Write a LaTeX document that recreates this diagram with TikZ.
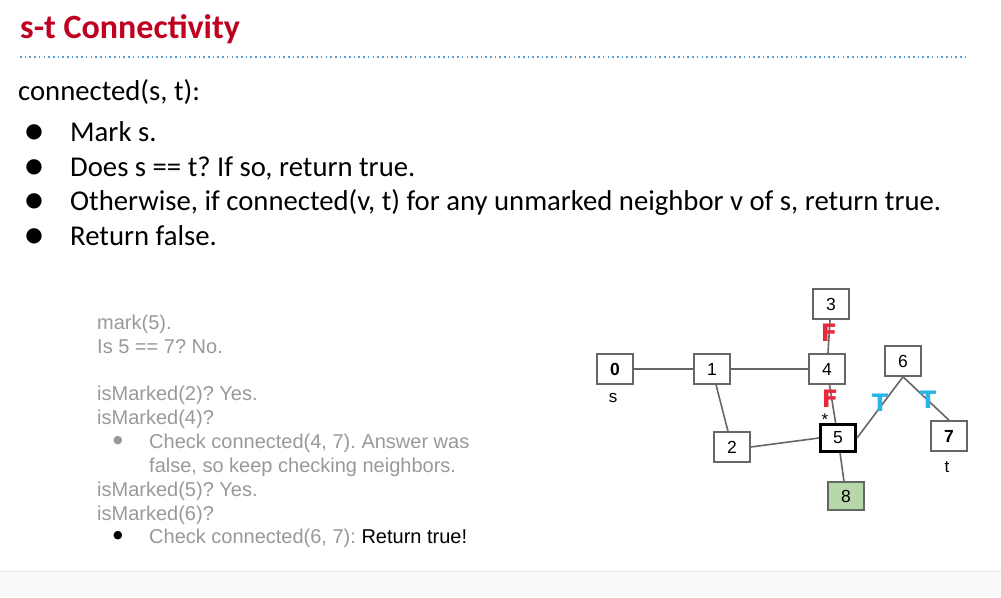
\documentclass[tikz,border=0pt]{standalone}
\usepackage{fontspec}
\setmainfont{Carlito}
\newfontfamily\arial{Liberation Sans}
\newfontfamily\dejavu{DejaVu Sans}
\definecolor{titlered}{RGB}{192,0,32}
\definecolor{dotblue}{RGB}{91,155,213}
\definecolor{greytxt}{RGB}{153,153,153}
\definecolor{edgegrey}{RGB}{102,102,102}
\definecolor{nodegreen}{RGB}{182,215,168}
\definecolor{fred}{RGB}{232,40,60}
\definecolor{tblue}{RGB}{41,181,232}
\definecolor{bandfill}{RGB}{250,250,250}
\definecolor{bandline}{RGB}{230,230,230}
\frenchspacing
\tikzset{
  vbox/.style={draw=edgegrey, line width=1.6pt, fill=white, minimum width=36pt, minimum height=30pt, inner sep=0pt, font=\arial\fontsize{17.5}{17.5}\selectfont},
  edge/.style={draw=edgegrey, line width=1.6pt},
  bul/.style={anchor=base west, inner sep=0pt, font=\fontsize{28.7}{28.7}\selectfont},
  grey/.style={anchor=base west, inner sep=0pt, text=greytxt, font=\arial\fontsize{20}{20}\selectfont},
  flab/.style={inner sep=0pt, text=fred, font=\dejavu\bfseries\fontsize{24}{24}\selectfont},
  tlab/.style={inner sep=0pt, text=tblue, font=\dejavu\bfseries\fontsize{24}{24}\selectfont},
  small/.style={inner sep=0pt, font=\arial\fontsize{17}{17}\selectfont}
}
\begin{document}
\begin{tikzpicture}[x=1pt,y=-1pt]
\useasboundingbox (0,0) rectangle (1001,597);
\fill[white] (0,0) rectangle (1001,597);
% bottom band
\fill[bandfill] (0,571) rectangle (1001,597);
\draw[bandline, line width=1pt] (0,571) -- (1001,571);
% title
\node[anchor=base west, inner sep=0pt, text=titlered, font=\bfseries\fontsize{34}{34}\selectfont] (title) at (20,38) {s-t Connectivity};
\coordinate (dl) at (20,57);
\coordinate (dr) at (968,57);
\draw[dotblue, line width=2pt, dash pattern=on 1.6pt off 3.1pt] (dl) -- (dr);
% algorithm
\node[bul] (head) at (18,100) {connected(s, t):};
\foreach \y/\t [count=\i] in {141/{Mark s.},176/{Does s == t? If so, return true.},210/{Otherwise, if connected(v, t) for any unmarked neighbor v of s, return true.},245/{Return false.}}{
  \node[inner sep=0pt, font=\dejavu\fontsize{20}{20}\selectfont] (b\i) at (34,\y-9) {●};
  \node[bul] (l\i) at (70,\y) {\t};
}
% grey trace
\node[grey] (g1) at (97,329) {mark(5).};
\node[grey] (g2) at (97,353) {Is 5 == 7? No.};
\node[grey] (g3) at (97,400) {isMarked(2)? Yes.};
\node[grey] (g4) at (97,424) {isMarked(4)?};
\node[inner sep=0pt, text=greytxt, font=\dejavu\fontsize{11}{11}\selectfont] (gb1) at (118,441) {●};
\node[grey] (g5) at (149,448) {Check connected(4, 7). Answer was};
\node[grey] (g6) at (149,472) {false, so keep checking neighbors.};
\node[grey] (g7) at (97,496) {isMarked(5)? Yes.};
\node[grey] (g8) at (97,520) {isMarked(6)?};
\node[inner sep=0pt, text=black, font=\dejavu\fontsize{11}{11}\selectfont] (gb2) at (118,536) {●};
\node[grey] (g9) at (149,543) {Check connected(6, 7): \textcolor{black}{Return true!}};
% graph
\node[vbox] (n0) at (615,369) {\bfseries 0};
\node[vbox] (n1) at (712,369) {1};
\node[vbox] (n3) at (831,304) {3};
\node[vbox] (n4) at (827,369) {4};
\node[vbox] (n6) at (903,361) {6};
\node[vbox] (n2) at (732,447) {2};
\node[vbox, draw=black, line width=3pt, minimum width=35pt, minimum height=27pt] (n5) at (838,438) {5};
\node[vbox] (n7) at (949,436) {\bfseries 7};
\node[vbox, fill=nodegreen, minimum height=28pt] (n8) at (846,496) {8};
\draw[edge] (n0) -- (n1);
\draw[edge] (n1) -- (n4);
\draw[edge] (n1) -- (n2);
\draw[edge] (n3) -- (n4);
\draw[edge] (n4) -- (n5);
\draw[edge] (n2.east) -- (n5.west);
\draw[edge] (n5.east) -- (n6.south);
\draw[edge] (n6.south) -- (n7.north);
\draw[edge] (n5) -- (n8);
\node[small] (ls) at (613,398) {s};
\node[small] (lt) at (947,467) {t};
\node[small] (star) at (825,420) {*};
\node[flab] (f1) at (829,333) {F};
\node[flab] (f2) at (830,399) {F};
\node[tlab] (t1) at (880,403) {T};
\node[tlab] (t2) at (928,400) {T};
\end{tikzpicture}
\end{document}
